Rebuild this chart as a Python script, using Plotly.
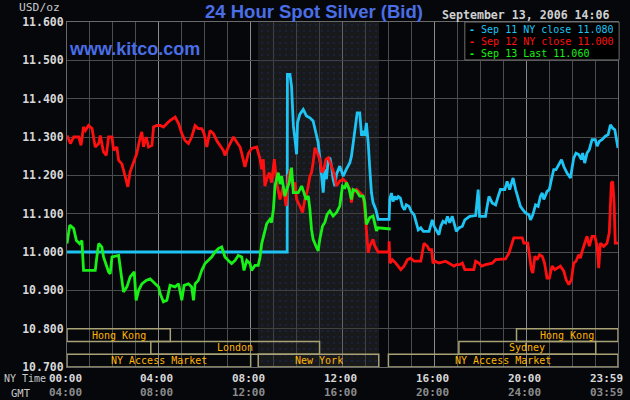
import plotly.graph_objects as go

# hours after NY midnight, spot bid in USD/oz
SEP11_HOURS = [
    0, 9.59, 9.60, 9.71, 9.78, 9.86, 9.93, 10.00, 10.04, 10.14,
    10.29, 10.43, 10.58, 10.72, 10.84, 10.94, 11.01, 11.09, 11.16, 11.23,
    11.30, 11.38, 11.45, 11.52, 11.59, 11.67, 11.74, 11.88, 12.03, 12.17,
    12.32, 12.39, 12.49, 12.58, 12.64, 12.75, 12.83, 12.90, 12.97, 13.04,
    13.12, 13.19, 13.26, 13.33, 13.45, 13.55, 14.03, 14.06, 14.13, 14.20,
    14.28, 14.35, 14.43, 14.52, 14.61, 14.70, 14.78, 14.90, 14.99, 15.12,
    15.22, 15.30, 15.41, 15.52, 15.77, 15.91, 15.99, 16.09, 16.20, 16.28,
    16.38, 16.49, 16.57, 16.67, 16.78, 16.90, 16.96, 17.07, 17.22, 17.33,
    17.43, 17.54, 17.80, 17.91, 17.97, 18.23, 18.30, 18.38, 18.52, 18.67,
    18.78, 18.88, 19.07, 19.17, 19.28, 19.36, 19.43, 19.54, 19.65, 19.75,
    19.86, 19.97, 20.12, 20.19, 20.29, 20.41, 20.52, 20.62, 20.70, 20.77,
    20.91, 21.01, 21.10, 21.20, 21.30, 21.42, 21.54, 21.64, 21.78, 21.93,
    22.00, 22.07, 22.17, 22.29, 22.41, 22.46, 22.55, 22.65, 22.75, 22.87,
    23.01, 23.09, 23.19, 23.30, 23.45, 23.57, 23.67, 23.77, 23.86, 23.93, 24.00,
]
SEP11_PRICES = [
    11.000, 11.000, 11.463, 11.463, 11.433, 11.329, 11.294, 11.255, 11.337, 11.359,
    11.372, 11.355, 11.350, 11.342, 11.311, 11.285, 11.246, 11.190, 11.155, 11.216,
    11.190, 11.242, 11.246, 11.224, 11.190, 11.172, 11.203, 11.224, 11.198, 11.216,
    11.233, 11.250, 11.294, 11.329, 11.363, 11.363, 11.303, 11.316, 11.303, 11.337,
    11.285, 11.216, 11.155, 11.129, 11.111, 11.085, 11.085, 11.137, 11.154, 11.132,
    11.145, 11.137, 11.145, 11.141, 11.119, 11.110, 11.123, 11.119, 11.106, 11.097,
    11.076, 11.058, 11.063, 11.054, 11.054, 11.084, 11.067, 11.058, 11.045, 11.067,
    11.080, 11.076, 11.093, 11.076, 11.093, 11.067, 11.054, 11.063, 11.067, 11.084,
    11.089, 11.093, 11.095, 11.163, 11.093, 11.093, 11.119, 11.145, 11.128, 11.123,
    11.145, 11.163, 11.163, 11.184, 11.163, 11.180, 11.193, 11.163, 11.137, 11.119,
    11.110, 11.102, 11.097, 11.084, 11.097, 11.123, 11.119, 11.145, 11.154, 11.137,
    11.158, 11.163, 11.189, 11.215, 11.215, 11.228, 11.241, 11.223, 11.206, 11.193,
    11.223, 11.245, 11.258, 11.254, 11.241, 11.258, 11.232, 11.258, 11.267, 11.293,
    11.293, 11.276, 11.289, 11.293, 11.302, 11.306, 11.332, 11.323, 11.319, 11.289, 11.271,
]

SEP12_HOURS = [
    0.00, 0.15, 0.29, 0.51, 0.61, 0.72, 0.80, 0.94, 1.09, 1.16,
    1.23, 1.38, 1.45, 1.59, 1.71, 1.81, 1.96, 2.03, 2.17, 2.25,
    2.39, 2.54, 2.65, 2.75, 2.90, 3.04, 3.19, 3.26, 3.33, 3.45,
    3.55, 3.70, 3.77, 3.91, 4.06, 4.20, 4.35, 4.49, 4.71, 4.86,
    5.00, 5.14, 5.29, 5.43, 5.58, 5.72, 5.87, 5.97, 6.09, 6.23,
    6.38, 6.52, 6.81, 6.88, 7.03, 7.25, 7.39, 7.54, 7.65, 7.75,
    7.90, 8.04, 8.26, 8.41, 8.48, 8.55, 8.62, 8.70, 8.81, 8.91,
    9.03, 9.13, 9.28, 9.42, 9.54, 9.64, 9.74, 9.83, 9.93, 10.00,
    10.14, 10.26, 10.36, 10.48, 10.58, 10.65, 10.72, 10.80, 10.90, 11.01,
    11.10, 11.19, 11.28, 11.38, 11.52, 11.62, 11.74, 11.88, 12.03, 12.17,
    12.32, 12.39, 12.46, 12.61, 12.75, 12.90, 12.97, 13.04, 13.12, 13.19,
    13.33, 13.41, 13.48, 13.55, 14.02, 14.03, 14.07, 14.17, 14.32, 14.43,
    14.54, 14.68, 14.83, 14.97, 15.12, 15.41, 15.48, 15.55, 15.70, 15.77,
    15.88, 15.94, 16.03, 16.20, 16.49, 16.64, 16.86, 16.96, 17.10, 17.22,
    17.33, 17.72, 17.80, 17.94, 18.06, 18.23, 18.52, 18.67, 19.10, 19.25,
    19.36, 19.46, 19.83, 19.90, 20.07, 20.14, 20.23, 20.29, 20.38, 20.48,
    20.58, 20.70, 20.80, 20.91, 21.01, 21.13, 21.25, 21.35, 21.49, 21.64,
    21.74, 21.86, 21.97, 22.07, 22.17, 22.29, 22.36, 22.46, 22.58, 22.65,
    22.75, 22.87, 22.99, 23.09, 23.16, 23.23, 23.38, 23.52, 23.62, 23.71,
    23.77, 23.83, 23.88, 24.00,
]
SEP12_PRICES = [
    11.304, 11.283, 11.300, 11.300, 11.278, 11.326, 11.317, 11.330, 11.322, 11.300,
    11.274, 11.283, 11.304, 11.261, 11.252, 11.300, 11.300, 11.265, 11.274, 11.239,
    11.230, 11.196, 11.170, 11.209, 11.235, 11.257, 11.300, 11.313, 11.274, 11.300,
    11.274, 11.278, 11.326, 11.330, 11.330, 11.326, 11.335, 11.343, 11.352, 11.335,
    11.309, 11.291, 11.283, 11.300, 11.330, 11.322, 11.322, 11.309, 11.274, 11.317,
    11.309, 11.291, 11.265, 11.252, 11.274, 11.300, 11.287, 11.274, 11.248, 11.222,
    11.257, 11.270, 11.274, 11.242, 11.216, 11.242, 11.172, 11.190, 11.207, 11.181,
    11.242, 11.181, 11.137, 11.172, 11.120, 11.198, 11.216, 11.172, 11.181, 11.137,
    11.120, 11.103, 11.137, 11.163, 11.198, 11.207, 11.233, 11.272, 11.259, 11.242,
    11.207, 11.216, 11.242, 11.246, 11.224, 11.207, 11.172, 11.185, 11.190, 11.181,
    11.163, 11.129, 11.155, 11.163, 11.155, 11.146, 11.111, 11.050, 10.998, 11.016,
    11.033, 11.016, 11.007, 11.000, 11.000, 11.028, 10.971, 10.980, 10.971, 10.963,
    10.954, 10.963, 10.980, 10.984, 10.976, 10.976, 10.997, 11.023, 11.015, 11.006,
    11.006, 10.971, 10.976, 10.971, 10.976, 10.971, 10.963, 10.967, 10.967, 10.971,
    10.954, 10.954, 10.976, 10.971, 10.963, 10.967, 10.971, 10.980, 10.982, 10.997,
    11.015, 11.037, 11.037, 11.023, 11.023, 10.989, 10.954, 10.945, 10.989, 10.980,
    10.993, 10.989, 10.971, 10.932, 10.932, 10.963, 10.954, 10.958, 10.963, 10.950,
    10.928, 10.915, 10.928, 10.971, 10.976, 10.993, 10.984, 11.006, 11.032, 11.041,
    11.015, 11.041, 11.041, 11.015, 10.958, 11.023, 11.015, 11.023, 11.050, 11.180,
    11.184, 11.128, 11.023, 11.023,
]

SEP13_HOURS = [
    0.00, 0.12, 0.29, 0.41, 0.55, 0.65, 0.72, 1.23, 1.30, 1.38,
    1.52, 1.59, 1.74, 1.81, 1.88, 1.96, 2.25, 2.35, 2.46, 2.61,
    2.75, 2.93, 3.01, 3.12, 3.26, 3.45, 3.62, 3.84, 3.99, 4.06,
    4.20, 4.35, 4.49, 4.71, 4.86, 5.00, 5.10, 5.29, 5.43, 5.51,
    5.58, 5.72, 5.87, 6.01, 6.16, 6.30, 6.45, 6.59, 6.74, 6.88,
    7.03, 7.17, 7.32, 7.46, 7.61, 7.71, 7.83, 7.97, 8.04, 8.19,
    8.33, 8.41, 8.48, 8.58, 8.70, 8.84, 8.91, 8.99, 9.06, 9.20,
    9.28, 9.35, 9.42, 9.49, 9.57, 9.68, 9.78, 9.86, 10.07, 10.22,
    10.32, 10.41, 10.51, 10.58, 10.65, 10.72, 10.84, 10.94, 11.01, 11.13,
    11.23, 11.33, 11.45, 11.59, 11.74, 11.88, 12.00, 12.10, 12.17, 12.29,
    12.39, 12.46, 12.61, 12.75, 12.90, 12.97, 13.04, 13.19, 13.33, 13.48,
    13.55, 14.10,
]
SEP13_PRICES = [
    11.022, 11.070, 11.061, 11.030, 11.022, 11.030, 10.952, 10.952, 10.987, 11.022,
    11.013, 10.987, 10.961, 10.948, 10.943, 10.987, 10.991, 10.943, 10.896, 10.909,
    10.935, 10.948, 10.874, 10.900, 10.917, 10.926, 10.930, 10.917, 10.909, 10.891,
    10.870, 10.874, 10.913, 10.909, 10.917, 10.874, 10.913, 10.917, 10.909, 10.874,
    10.917, 10.926, 10.952, 10.970, 10.978, 10.987, 11.000, 11.009, 11.013, 10.987,
    10.978, 10.970, 10.978, 10.991, 10.987, 10.952, 10.978, 10.970, 10.952, 10.965,
    10.965, 10.987, 11.022, 11.043, 11.074, 11.085, 11.077, 11.111, 11.172, 11.207,
    11.177, 11.198, 11.172, 11.146, 11.163, 11.181, 11.220, 11.155, 11.155, 11.172,
    11.155, 11.137, 11.146, 11.111, 11.059, 11.033, 11.016, 11.003, 11.033, 11.068,
    11.077, 11.098, 11.107, 11.094, 11.103, 11.120, 11.172, 11.168, 11.181, 11.163,
    11.137, 11.163, 11.159, 11.146, 11.146, 11.129, 11.072, 11.090, 11.094, 11.055,
    11.063, 11.060,
]

SERIES_NAMES = ["Sep 11 NY close 11.080", "Sep 12 NY close 11.000", "Sep 13 Last 11.060"]
SERIES_COLORS = ["#1ec4f4", "#ff1010", "#18f018"]

# trading sessions: name, row (0 = top), start hour, end hour
SESSION_NAMES = ["Hong Kong", "Hong Kong", "London", "Sydney",
                 "NY Access Market", "New York", "NY Access Market"]
SESSION_ROWS = [0, 0, 1, 1, 2, 2, 2]
SESSION_START = [0.0, 19.58, 3.65, 17.07, 0.0, 8.33, 14.0]
SESSION_END = [4.5, 24.0, 11.0, 23.03, 8.0, 13.58, 24.0]

TICK_HOURS = [0, 4, 8, 12, 16, 20, 24]
NY_LABELS = ["00:00", "04:00", "08:00", "12:00", "16:00", "20:00", "23:59"]
GMT_LABELS = ["04:00", "08:00", "12:00", "16:00", "20:00", "24:00", "03:59"]

Y_MIN, Y_MAX = 10.7, 11.6
MONO = "DejaVu Sans Mono"
BLUE = "#4a6ee6"
NY_ROW_Y, GMT_ROW_Y = -0.034, -0.075


def build_figure() -> go.Figure:
    fig = go.Figure()

    # shaded New York session band
    ny = SESSION_NAMES.index("New York")
    start, end = SESSION_START[ny], SESSION_END[ny]
    fig.add_bar(
        x=[(start + end) / 2], y=[Y_MAX - Y_MIN], base=[Y_MIN], width=[end - start],
        marker=dict(
            color="rgba(50,50,50,0.42)", line_width=0,
            pattern=dict(shape=".", bgcolor="rgba(50,50,50,0.42)",
                         fgcolor="#1c2a6a", size=6, solidity=0.1),
        ),
        hoverinfo="skip", showlegend=False,
    )

    series = [
        (SEP11_HOURS, SEP11_PRICES),
        (SEP12_HOURS, SEP12_PRICES),
        (SEP13_HOURS, SEP13_PRICES),
    ]
    for (hours, prices), name, color in zip(series, SERIES_NAMES, SERIES_COLORS):
        assert len(hours) == len(prices), name
        fig.add_scatter(x=hours, y=prices, mode="lines", name=name,
                        line=dict(color=color, width=2.8), showlegend=False)

    # session boxes along the bottom
    row_h = 0.1 / 3
    for name, row, s, e in zip(SESSION_NAMES, SESSION_ROWS, SESSION_START, SESSION_END):
        top = 10.8 - row * row_h
        fig.add_shape(type="rect", xref="x", yref="y", x0=s, x1=e, y0=top - row_h, y1=top,
                      line=dict(color="#a8a274", width=1.5), fillcolor="rgba(0,0,0,0)")
        fig.add_annotation(x=(s + e) / 2, y=top - row_h / 2, xref="x", yref="y",
                           text=name, showarrow=False, height=11,
                           font=dict(family=MONO, size=10, color="#ffb400"))

    # legend box
    fig.add_shape(type="rect", xref="paper", yref="paper", x0=0.722, x1=1.002, y0=0.89, y1=1.0,
                  line=dict(color="#707070", width=1), fillcolor="#000000")
    for i, (name, color) in enumerate(zip(SERIES_NAMES, SERIES_COLORS)):
        fig.add_annotation(x=0.726, y=0.979 - i * 0.035, xref="paper", yref="paper",
                           xanchor="left", yanchor="middle", showarrow=False, height=11,
                           text="<b>-</b> " + name,
                           font=dict(family=MONO, size=10, color=color))

    # time labels under the axis
    for h, ny_lab, gmt_lab in zip(TICK_HOURS, NY_LABELS, GMT_LABELS):
        last = h == TICK_HOURS[-1]
        for lab, yy, col in ((ny_lab, NY_ROW_Y, "#d8d8d8"), (gmt_lab, GMT_ROW_Y, "#8c8c8c")):
            fig.add_annotation(x=h, y=yy, xref="x", yref="paper", showarrow=False,
                               xanchor="right" if last else "center",
                               xshift=7 if last else -2, yanchor="middle", height=11,
                               text=f"<b>{lab}</b>",
                               font=dict(family=MONO, size=11, color=col))
    fig.add_annotation(x=-0.118, y=NY_ROW_Y, xref="paper", yref="paper", xanchor="left",
                       yanchor="middle", showarrow=False, text="NY Time", height=11,
                       font=dict(family=MONO, size=10, color="#c8c8c8"))
    fig.add_annotation(x=-0.084, y=GMT_ROW_Y, xref="paper", yref="paper", xanchor="center",
                       yanchor="middle", showarrow=False, text="GMT", height=11,
                       font=dict(family=MONO, size=10.5, color="#c8c8c8"))

    # header texts
    fig.add_annotation(x=0.448, y=1.029, xref="paper", yref="paper", showarrow=False,
                       yanchor="middle", text="<b>24 Hour Spot Silver (Bid)</b>",
                       font=dict(family="Liberation Sans", size=18.5, color=BLUE))
    fig.add_annotation(x=-0.009, y=1.041, xref="paper", yref="paper", showarrow=False,
                       xanchor="right", yanchor="middle", text="USD/oz",
                       font=dict(family=MONO, size=11.3, color="#c8c8c8"))
    fig.add_annotation(x=0.677, y=1.021, xref="paper", yref="paper", showarrow=False,
                       xanchor="left", yanchor="middle", text="<b>September 13, 2006 14:06</b>",
                       font=dict(family=MONO, size=11.6, color="#d0d0d0"))
    fig.add_annotation(x=0.0, y=0.921, xref="paper", yref="paper", showarrow=False,
                       xanchor="left", yanchor="middle", text="<b>www.kitco.com</b>",
                       font=dict(family="Liberation Sans", size=18, color=BLUE))

    fig.update_layout(
        width=630, height=400,
        margin=dict(l=67, r=12, t=22, b=33),
        paper_bgcolor="#05070b", plot_bgcolor="#05070b",
        bargap=0, showlegend=False,
        xaxis=dict(range=[0, 24], dtick=4, showgrid=True, gridcolor="#8a8a8a", gridwidth=1,
                   minor=dict(dtick=1, showgrid=True, gridcolor="#4c4c4c"),
                   showticklabels=False, zeroline=False,
                   showline=True, mirror=True, linecolor="#6a6a6a"),
        yaxis=dict(range=[Y_MIN, Y_MAX], dtick=0.1, tick0=10.7, tickformat=".3f",
                   showgrid=True, gridcolor="#4c4c4c", zeroline=False,
                   showline=True, mirror=True, linecolor="#6a6a6a",
                   tickfont=dict(family=MONO, size=11.5, color="#d8d8d8", weight="bold")),
    )
    return fig


def main():
    fig = build_figure()
    # the page body has a default 8px margin; drop it so the chart sits at the window corner
    fig.write_html("out.html", config={"displayModeBar": False},
                   post_script="document.body.style.margin='0';")


if __name__ == "__main__":
    main()
